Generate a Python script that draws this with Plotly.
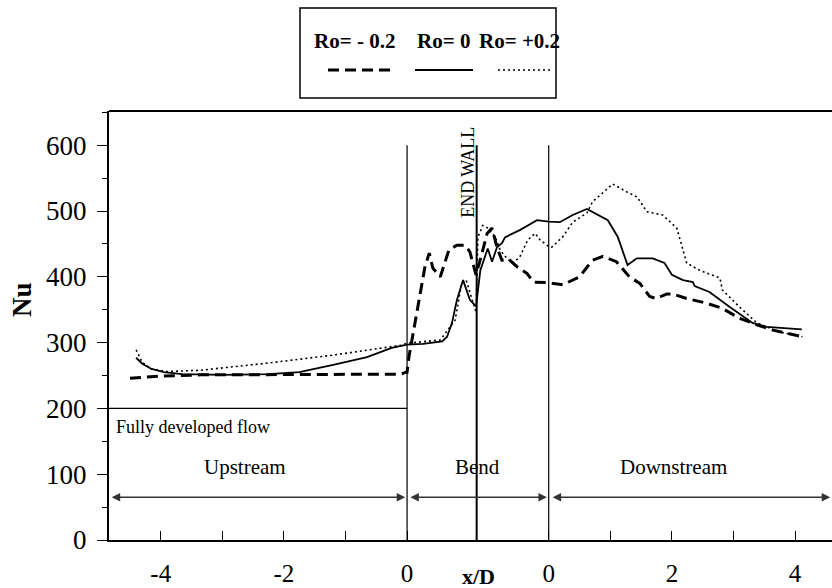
import plotly.graph_objects as go

# ---------------- data ----------------
BEND_LEN = 2.30      # plotted length of the bend section (axis units)
END_WALL = 1.13      # end-wall position inside the bend

# Upstream (x/D < 0)
up_x_m02 = [-4.50, -4.00, -3.35, -2.25, -1.20, -0.10, -0.02]
up_nu_m02 = [246, 249, 251, 251, 252, 252, 255]
up_x_0 = [-4.40, -4.30, -4.15, -3.95, -3.65, -3.00, -2.25, -1.75, -1.20, -0.65, -0.25, 0.0]
up_nu_0 = [277, 268, 260, 255, 252, 251, 252, 255, 266, 278, 292, 297]
up_x_p02 = [-4.40, -4.30, -4.15, -3.90, -3.35, -2.25, -1.20, -0.10, 0.0]
up_nu_p02 = [289, 270, 260, 256, 258, 269, 281, 296, 299]

# Bend (position along the bend, 0 .. BEND_LEN)
bend_s_m02 = [0.0, 0.03, 0.10, 0.21, 0.29, 0.36, 0.42, 0.54, 0.62, 0.68, 0.81, 0.94, 1.02,
              1.07, 1.12, 1.20, 1.30, 1.38, 1.46, 1.54, 1.67, 1.79, 1.95, 2.05, 2.21, 2.30]
bend_nu_m02 = [255, 278, 314, 375, 415, 436, 413, 400, 423, 441, 448, 448, 438,
               418, 403, 430, 466, 474, 445, 425, 425, 415, 405, 392, 391, 391]
bend_s_0 = [0.0, 0.26, 0.57, 0.65, 0.73, 0.81, 0.91, 1.02, 1.12, 1.19, 1.25, 1.31, 1.38,
            1.46, 1.54, 1.59, 1.83, 2.11, 2.30]
bend_nu_0 = [297, 298, 302, 309, 330, 365, 395, 365, 355, 410, 425, 443, 423,
             445, 451, 460, 471, 486, 484]
bend_s_p02 = [0.0, 0.54, 0.78, 0.89, 0.96, 1.12, 1.15, 1.23, 1.31, 1.43, 1.51, 1.62, 1.72,
              1.83, 1.96, 2.08, 2.16, 2.30]
bend_nu_p02 = [299, 304, 334, 392, 395, 346, 460, 478, 474, 461, 441, 428, 421,
               430, 456, 466, 456, 446]

# Downstream (x/D > 0)
dn_x_m02 = [0.0, 0.23, 0.50, 0.71, 0.88, 1.10, 1.31, 1.48, 1.64, 1.75, 1.92, 2.01, 2.24,
            2.56, 2.82, 3.10, 3.38, 3.64, 4.12]
dn_nu_m02 = [391, 388, 400, 425, 431, 423, 400, 390, 370, 367, 374, 374, 367,
             360, 352, 337, 327, 319, 309]
dn_x_0 = [0.0, 0.18, 0.39, 0.62, 0.96, 1.12, 1.28, 1.43, 1.69, 1.88, 2.00, 2.18, 2.34,
          2.37, 2.61, 2.94, 3.31, 3.54, 4.11]
dn_nu_0 = [484, 483, 494, 503, 486, 461, 418, 428, 428, 421, 403, 395, 392,
           386, 377, 354, 330, 324, 320]
dn_x_p02 = [0.0, 0.05, 0.23, 0.39, 0.62, 0.71, 1.04, 1.27, 1.44, 1.59, 1.85, 2.08, 2.24,
            2.45, 2.78, 2.82, 3.10, 3.38, 3.75, 4.12]
dn_nu_p02 = [446, 445, 461, 483, 497, 514, 541, 529, 521, 499, 494, 474, 421,
             410, 398, 380, 354, 330, 316, 309]

up_ticks = [-4, -3, -2, -1, 0]
up_ticklabels = ["-4", "", "-2", "", "0"]
dn_ticks = [0, 1, 2, 3, 4]
dn_ticklabels = ["0", "", "2", "", "4"]
y_ticks = [0, 100, 200, 300, 400, 500, 600]

series_names = ["Ro= - 0.2", "Ro= 0", "Ro= +0.2"]

# ---------------- layout helpers ----------------
W, H = 832, 588
L, R, T, B = 109, 0, 111, 48
XMIN, XMAX = -4.84, 6.90
YMIN, YMAX = 0, 652
SECTION_TOP = 600


def pxx(px):
    return (px - L) / (W - L - R)


def pxy(py):
    return (H - B - py) / (H - T - B)


def combine(ux, un, bs, bn, dx, dn):
    xs = list(ux) + list(bs) + [BEND_LEN + v for v in dx]
    ys = list(un) + list(bn) + list(dn)
    return xs, ys


FONT = "Liberation Serif, Times New Roman, serif"
styles = [
    dict(color="black", width=3, dash="11px,6px"),
    dict(color="black", width=1.8),
    dict(color="black", width=1.6, dash="2px,3px"),
]
data_sets = [
    (up_x_m02, up_nu_m02, bend_s_m02, bend_nu_m02, dn_x_m02, dn_nu_m02),
    (up_x_0, up_nu_0, bend_s_0, bend_nu_0, dn_x_0, dn_nu_0),
    (up_x_p02, up_nu_p02, bend_s_p02, bend_nu_p02, dn_x_p02, dn_nu_p02),
]

fig = go.Figure()
# section boundaries (x axis up to Nu = 600), drawn as clipped line traces
fig.add_trace(go.Scatter(x=[0, 0, None, BEND_LEN, BEND_LEN],
                         y=[YMIN, SECTION_TOP, None, YMIN, SECTION_TOP],
                         mode="lines", line=dict(color="black", width=1.2),
                         showlegend=False, hoverinfo="skip"))
fig.add_trace(go.Scatter(x=[END_WALL, END_WALL], y=[YMIN, SECTION_TOP],
                         mode="lines", line=dict(color="black", width=2),
                         showlegend=False, hoverinfo="skip"))
for name, st, ds in zip(series_names, styles, data_sets):
    xs, ys = combine(*ds)
    fig.add_trace(go.Scatter(x=xs, y=ys, mode="lines", name=name, line=st,
                             showlegend=False, hoverinfo="skip"))

tickvals = list(up_ticks) + [BEND_LEN + v for v in dn_ticks]
ticktext = up_ticklabels + dn_ticklabels

fig.update_layout(
    width=W, height=H,
    margin=dict(l=L, r=R, t=T, b=B, autoexpand=False),
    paper_bgcolor="white", plot_bgcolor="white",
    font=dict(family=FONT, color="black"),
    xaxis=dict(range=[XMIN, XMAX], tickvals=tickvals, ticktext=ticktext,
               ticks="inside", ticklen=9, tickwidth=1, tickcolor="black",
               showline=True, linewidth=2, linecolor="black",
               showgrid=False, zeroline=False, automargin=False,
               tickfont=dict(size=25, family=FONT), ticklabelstandoff=10),
    yaxis=dict(range=[YMIN, YMAX], tickvals=y_ticks,
               ticks="outside", ticklen=10, tickwidth=1, tickcolor="black",
               showline=True, linewidth=2, linecolor="black",
               showgrid=False, zeroline=False, automargin=False,
               tickfont=dict(size=27, family=FONT), ticklabelstandoff=5,
               minor=dict(dtick=50, ticks="outside", ticklen=5, tickcolor="black",
                          showgrid=False)),
)

shapes = []
# top frame line
shapes.append(dict(type="line", xref="paper", yref="paper", x0=0, x1=1, y0=1, y1=1,
                   line=dict(color="black", width=2)))
# fully developed flow line
shapes.append(dict(type="line", xref="x", yref="y", x0=XMIN, x1=0, y0=200, y1=200,
                   line=dict(color="black", width=1.2)))
# legend box
shapes.append(dict(type="rect", xref="paper", yref="paper",
                   x0=pxx(300), x1=pxx(556), y0=pxy(98), y1=pxy(8),
                   line=dict(color="black", width=1.5), fillcolor="white"))
# legend line samples
for (a, b), st in zip([(328, 392), (415, 473), (498, 553)], styles):
    s = dict(st)
    shapes.append(dict(type="line", xref="paper", yref="paper",
                       x0=pxx(a), x1=pxx(b), y0=pxy(70), y1=pxy(70),
                       line=s))
fig.update_layout(shapes=shapes)

ann = []
# legend texts
for name, cx in zip(series_names, [354, 443, 519]):
    ann.append(dict(text="<b>%s</b>" % name, xref="paper", yref="paper",
                    x=pxx(cx), y=pxy(41), xanchor="center", yanchor="middle",
                    showarrow=False, font=dict(size=21, family=FONT)))
# axis titles
ann.append(dict(text="<b>Nu</b>", xref="paper", yref="paper", x=pxx(22), y=pxy(300),
                xanchor="center", yanchor="middle",
                showarrow=False, textangle=-90, font=dict(size=27, family=FONT)))
ann.append(dict(text="<b>x/D</b>", xref="paper", yref="paper", x=pxx(478), y=pxy(576),
                xanchor="center", yanchor="middle",
                showarrow=False, font=dict(size=22, family=FONT)))
# END WALL
ann.append(dict(text="END WALL", xref="x", yref="y", x=END_WALL - 0.13, y=559,
                xanchor="center", yanchor="middle",
                showarrow=False, textangle=-90, font=dict(size=18, family=FONT)))
# region labels
ann.append(dict(text="Fully developed flow", xref="x", yref="y", x=-4.76, y=172,
                xanchor="left", yanchor="middle", showarrow=False,
                font=dict(size=18, family=FONT)))
for txt, xv in [("Upstream", -2.63), ("Bend", END_WALL + 0.01), ("Downstream", 4.32)]:
    ann.append(dict(text=txt, xref="x", yref="y", x=xv, y=111, showarrow=False,
                    xanchor="center", yanchor="middle",
                    font=dict(size=21, family=FONT)))
# region arrows
for x0, x1 in [(XMIN + 0.02, -0.03), (0.03, BEND_LEN - 0.03), (BEND_LEN + 0.04, XMAX - 0.03)]:
    ann.append(dict(text="", xref="x", yref="y", axref="x", ayref="y",
                    x=x1, y=65, ax=x0, ay=65, showarrow=True, arrowside="end+start",
                    arrowhead=2, arrowsize=1.3, arrowwidth=1.3, arrowcolor="#333"))
fig.update_layout(annotations=ann)

fig.write_html("out.html", config={"displayModeBar": False},
               post_script="document.body.style.margin='0';document.body.style.overflow='hidden';")
